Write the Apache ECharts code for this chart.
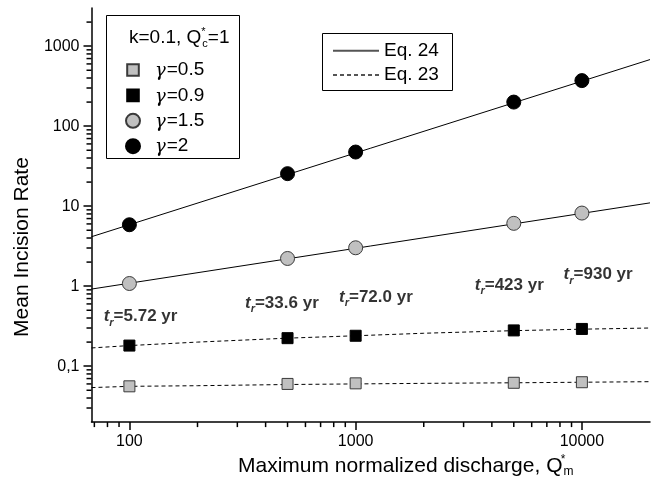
<!DOCTYPE html>
<html>
<head>
<meta charset="utf-8">
<script src="https://cdn.jsdelivr.net/npm/echarts@6/dist/echarts.min.js"></script>
<style>
html,body{margin:0;padding:0;background:#fff;}
#chart{width:670px;height:483px;}
</style>
</head>
<body>
<div id="chart"></div>
<script>
// ---- data ----
const qValues = [100, 500, 1000, 5000, 10000];
const rateGamma05 = [0.056, 0.060, 0.061, 0.062, 0.063];
const rateGamma09 = [0.181, 0.224, 0.240, 0.280, 0.292];
const rateGamma15 = [1.08, 2.22, 3.02, 6.1, 8.2];
const rateGamma2 = [5.86, 25.5, 47.5, 200, 371];

const eq24Q = [68, 20000];
const eq24Gamma2 = [4.15, 680];
const eq24Gamma15 = [0.92, 11.0];

const eq23Q = [68, 100, 200, 500, 1000, 2000, 5000, 10000, 20000];
const eq23Gamma09 = [0.169, 0.181, 0.200, 0.224, 0.240, 0.258, 0.278, 0.290, 0.300];
const eq23Gamma05 = [0.054, 0.056, 0.057, 0.059, 0.060, 0.061, 0.062, 0.063, 0.064];

const gammaNames = ['γ=0.5', 'γ=0.9', 'γ=1.5', 'γ=2'];
const eqNames = ['Eq. 24', 'Eq. 23'];

const trLabels = ['5.72', '33.6', '72.0', '423', '930'];
const trAnchorQ = [112, 472, 1229, 4777, 11795];
const trAnchorRate = [0.416, 0.612, 0.727, 1.037, 1.387];

const xMinorTicks = [70, 80, 90, 200, 300, 400, 500, 600, 700, 800, 900,
  2000, 3000, 4000, 5000, 6000, 7000, 8000, 9000];
const yMinorTicks = [0.03, 0.04, 0.05, 0.06, 0.07, 0.08, 0.09,
  0.2, 0.3, 0.4, 0.5, 0.6, 0.7, 0.8, 0.9,
  2, 3, 4, 5, 6, 7, 8, 9,
  20, 30, 40, 50, 60, 70, 80, 90,
  200, 300, 400, 500, 600, 700, 800, 900, 2000];

const X_MIN = 68, X_MAX = 20000, Y_MIN = 0.02, Y_MAX = 3000;

// ---- chart ----
const FONT = '"Liberation Sans", Arial, sans-serif';
const GFONT = '"DejaVu Serif", serif';
const chart = echarts.init(document.getElementById('chart'), null, {renderer: 'canvas'});
const pairs = (xs, ys) => xs.map((x, i) => [x, ys[i]]);

const GREY = '#c0c0c0';
const EDGE = '#3a3a3a';
const SQ = 'path://M0,0M2.2,2.2L13.8,2.2L13.8,13.8L2.2,13.8ZM25,16';
const CI = 'path://M0,0M1,8A7,7,0,1,0,15,8A7,7,0,1,0,1,8ZM25,16';

function fmt(v) {
  const r = Math.round(v * 1000) / 1000;
  if (Math.abs(r - 0.1) < 1e-9) return '0,1';
  return String(r);
}

const minorTickSeries = (values, isX) => ({
  type: 'custom',
  silent: true,
  clip: false,
  z: 10,
  data: values.map(v => isX ? [v, Y_MIN] : [X_MIN, v]),
  renderItem: (params, api) => {
    const p = api.coord([api.value(0), api.value(1)]);
    const shape = isX
      ? {x1: p[0], y1: p[1], x2: p[0], y2: p[1] + 5}
      : {x1: p[0] - 5, y1: p[1], x2: p[0], y2: p[1]};
    return {type: 'line', shape: shape, style: {stroke: '#000', lineWidth: 1.5}};
  }
});

const option = {
  animation: false,
  backgroundColor: '#fff',
  grid: {left: 91.5, right: 20, top: 8, bottom: 60.3, containLabel: false},
  xAxis: {
    type: 'log', logBase: 10, min: X_MIN, max: X_MAX,
    name: '{a|Maximum normalized discharge, Q}{s|*}{m|m}',
    nameLocation: 'middle', nameGap: 29,
    nameTextStyle: {
      padding: [0, 0, 0, 70],
      rich: {
        a: {fontFamily: FONT, fontSize: 21, color: '#000'},
        s: {fontFamily: FONT, fontSize: 12, color: '#000', width: 1, padding: [0, 0, 12, 0]},
        m: {fontFamily: FONT, fontSize: 12, color: '#000', padding: [12, 0, 0, 0]}
      }
    },
    axisLine: {lineStyle: {color: '#000', width: 1.5}},
    axisTick: {show: true, inside: false, length: 8, lineStyle: {color: '#000', width: 1.5}},
    axisLabel: {color: '#000', fontFamily: FONT, fontSize: 16, margin: 11,
      showMinLabel: false, showMaxLabel: false, formatter: fmt},
    splitLine: {show: false},
    minorTick: {show: false}
  },
  yAxis: {
    type: 'log', logBase: 10, min: Y_MIN, max: Y_MAX,
    name: 'Mean Incision Rate',
    nameLocation: 'middle', nameGap: 56,
    nameTextStyle: {fontFamily: FONT, fontSize: 21, color: '#000', padding: [0, 64, 0, 0]},
    axisLine: {lineStyle: {color: '#000', width: 1.5}},
    axisTick: {show: true, inside: false, length: 8, lineStyle: {color: '#000', width: 1.5}},
    axisLabel: {color: '#000', fontFamily: FONT, fontSize: 16, margin: 12,
      showMinLabel: false, showMaxLabel: false, formatter: fmt},
    splitLine: {show: false}
  },
  legend: [
    {
      orient: 'vertical', left: 124, top: 60.5, padding: 0,
      itemWidth: 25, itemHeight: 16, itemGap: 5.4,
      selectedMode: false,
      formatter: name => '{g|γ}{n|' + name.slice(1) + '}',
      textStyle: {
        fontFamily: FONT, fontSize: 19, color: '#000',
        rich: {
          g: {fontFamily: GFONT, fontStyle: 'italic', fontSize: 18, color: '#000', padding: [3, 1, 0, 0]},
          n: {fontFamily: FONT, fontSize: 19, color: '#000'}
        }
      },
      itemStyle: {opacity: 1},
      data: [
        {name: gammaNames[0], icon: SQ},
        {name: gammaNames[1], icon: SQ},
        {name: gammaNames[2], icon: CI},
        {name: gammaNames[3], icon: CI}
      ]
    },
    {
      orient: 'vertical', left: 332, top: 41.2, padding: 0,
      itemWidth: 46, itemHeight: 14, itemGap: 5.3,
      selectedMode: false,
      itemStyle: {opacity: 0},
      lineStyle: {color: '#555'},
      textStyle: {fontFamily: FONT, fontSize: 19, color: '#000'},
      data: eqNames
    }
  ],
  graphic: [
    {type: 'rect', silent: true, z: 0,
      shape: {x: 106.5, y: 15.5, width: 133, height: 143},
      style: {fill: 'transparent', stroke: '#000', lineWidth: 1}},
    {type: 'rect', silent: true, z: 0,
      shape: {x: 322.5, y: 33.5, width: 130, height: 57},
      style: {fill: 'transparent', stroke: '#000', lineWidth: 1}},
    {type: 'text', silent: true, x: 129, y: 38,
      style: {
        text: '{a|k=0.1, Q}{s|*}{c|c}{a|=1}',
        verticalAlign: 'middle',
        rich: {
          a: {fontFamily: FONT, fontSize: 19, fill: '#000'},
          s: {fontFamily: FONT, fontSize: 11, fill: '#000', width: 1, padding: [0, 0, 12, 0]},
          c: {fontFamily: FONT, fontSize: 11, fill: '#000', padding: [12, 0, 0, 0]}
        }
      }}
  ],
  series: [
    {type: 'line', name: eqNames[0], data: pairs(eq24Q, eq24Gamma2), symbol: 'none', silent: true, z: 2,
      lineStyle: {color: '#000', width: 1}, itemStyle: {color: '#000'}},
    {type: 'line', name: eqNames[0], data: pairs(eq24Q, eq24Gamma15), symbol: 'none', silent: true, z: 2,
      lineStyle: {color: '#000', width: 1}, itemStyle: {color: '#000'}},
    {type: 'line', name: eqNames[1], data: pairs(eq23Q, eq23Gamma09), symbol: 'none', silent: true, z: 2,
      lineStyle: {color: '#000', width: 1, type: [4, 3]}, itemStyle: {color: '#000'}},
    {type: 'line', name: eqNames[1], data: pairs(eq23Q, eq23Gamma05), symbol: 'none', silent: true, z: 2,
      lineStyle: {color: '#000', width: 1, type: [4, 3]}, itemStyle: {color: '#000'}},
    {type: 'scatter', name: gammaNames[0], data: pairs(qValues, rateGamma05), symbol: 'rect', symbolSize: 11, z: 5,
      itemStyle: {color: GREY, borderColor: EDGE, borderWidth: 1, opacity: 1}},
    {type: 'scatter', name: gammaNames[1], data: pairs(qValues, rateGamma09), symbol: 'rect', symbolSize: 11, z: 5,
      itemStyle: {color: '#000', borderColor: '#000', borderWidth: 1, opacity: 1}},
    {type: 'scatter', name: gammaNames[2], data: pairs(qValues, rateGamma15), symbol: 'circle', symbolSize: 14, z: 5,
      itemStyle: {color: GREY, borderColor: EDGE, borderWidth: 1, opacity: 1}},
    {type: 'scatter', name: gammaNames[3], data: pairs(qValues, rateGamma2), symbol: 'circle', symbolSize: 14, z: 5,
      itemStyle: {color: '#000', borderColor: '#000', borderWidth: 1, opacity: 1}},
    {type: 'scatter', name: 'tr', silent: true, z: 6, symbolSize: 1,
      itemStyle: {color: 'transparent'},
      data: pairs(trAnchorQ, trAnchorRate),
      label: {
        show: true, position: 'inside',
        formatter: p => '{t|t}{r|r}{v|=' + trLabels[p.dataIndex] + ' yr}',
        rich: {
          t: {fontFamily: FONT, fontSize: 17, fontWeight: 'bold', fontStyle: 'italic', color: '#000'},
          r: {fontFamily: FONT, fontSize: 11, fontWeight: 'bold', fontStyle: 'italic', color: '#000', padding: [12, 0, 0, 0]},
          v: {fontFamily: FONT, fontSize: 17, fontWeight: 'bold', color: '#000'}
        }
      }},
    minorTickSeries(xMinorTicks, true),
    minorTickSeries(yMinorTicks, false)
  ]
};
chart.setOption(option);
</script>
</body>
</html>
